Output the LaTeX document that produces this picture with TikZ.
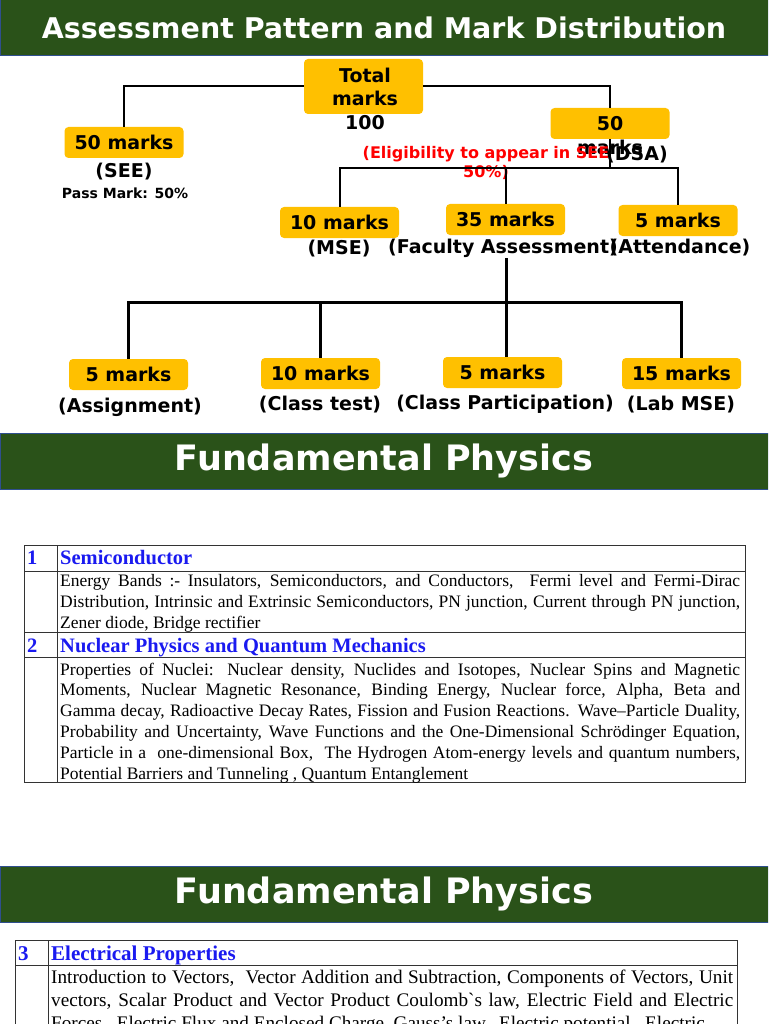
\documentclass[tikz,border=0pt]{standalone}
\usepackage{fontspec}
\setmainfont{Liberation Serif}
\newfontfamily\dv{DejaVu Sans}
\definecolor{bargreen}{HTML}{2A5219}
\definecolor{barblue}{HTML}{2F4F8F}
\definecolor{mk}{HTML}{FFC000}
\definecolor{hd}{HTML}{1A1AF0}
\definecolor{tl}{HTML}{333333}
\definecolor{elig}{HTML}{FF0000}
\tikzset{
  bar/.style={fill=bargreen, draw=barblue, line width=1pt},
  bartext/.style={text=white, inner sep=0pt, font=\dv\bfseries\fontsize{35}{40}\selectfont},
  mbox/.style={fill=mk, rounded corners=4pt, minimum width=119pt, minimum height=31pt, inner sep=0pt, font=\dv\bfseries\fontsize{19}{22}\selectfont},
  lab/.style={inner sep=0pt, font=\dv\bfseries\fontsize{19}{22}\selectfont},
  conn/.style={line width=2pt},
  tconn/.style={line width=3pt},
  cell/.style={draw=tl, line width=1pt},
  hnum/.style={anchor=base west, inner sep=0pt, text=hd, font=\bfseries\fontsize{20.5}{24}\selectfont},
  bodyA/.style={anchor=north west, inner sep=0pt, text width=680pt, align=justify, font=\fontsize{17.5}{20.9}\selectfont},
  bodyB/.style={anchor=north west, inner sep=0pt, text width=682pt, align=justify, font=\fontsize{19.2}{23}\selectfont},
}
\begin{document}
\begin{tikzpicture}[x=1pt,y=-1pt]
\clip (0,0) rectangle (768,1024);
\fill[white] (0,0) rectangle (768,1024);
% header bar 1
\draw[bar] (0,0) rectangle (768,56);
\node[bartext, font=\dv\bfseries\fontsize{28.5}{31}\selectfont] (t1) at (384,28) {Assessment Pattern and Mark Distribution};

% tree
\node[mbox, minimum height=55pt] (tot) at (363.5,86.5) {};
\node[lab, align=center, font=\dv\bfseries\fontsize{19}{23.5}\selectfont] (tottxt) at (365,98.5) {Total\\marks\\100};
\node[mbox] (see) at (124,142.5) {50 marks};
\node[lab] (seel) at (124,172) {(SEE)};
\node[lab, font=\dv\bfseries\fontsize{14}{16}\selectfont] (pass) at (125,193) {Pass Mark: 50\%};
\node[mbox] (dsa) at (610,123.5) {};
\node[lab, align=center, font=\dv\bfseries\fontsize{19}{24}\selectfont] (dsatxt) at (610,136) {50\\marks};
\node[lab, align=center, text=elig, font=\dv\bfseries\fontsize{16}{19}\selectfont] (elg) at (486,162.5) {(Eligibility to appear in SEE\\50\%)};
\node[lab] (dsal) at (637,155) {(DSA)};

\node[mbox] (mse) at (339.5,222.5) {10 marks};
\node[mbox] (fac) at (505.5,219.5) {35 marks};
\node[mbox] (att) at (678,220.5) {5 marks};
\node[lab] (msel) at (339,249) {(MSE)};
\node[lab] (facl) at (503,248) {(Faculty Assessment)};
\node[lab] (attl) at (680,248) {(Attendance)};

\node[mbox] (asg) at (128.5,374.5) {5 marks};
\node[mbox] (ct) at (320.5,373.5) {10 marks};
\node[mbox] (cp) at (502.5,372.5) {5 marks};
\node[mbox] (lb) at (681.5,373.5) {15 marks};
\node[lab] (asgl) at (130,407) {(Assignment)};
\node[lab] (ctl) at (320,405) {(Class test)};
\node[lab] (cpl) at (505,404) {(Class Participation)};
\node[lab] (lbl) at (681,405) {(Lab MSE)};

\draw[conn] (tot.west) -| (see.north);
\draw[conn] (tot.east) -| (dsa.north);
\coordinate (j1) at (610,168);
\draw[conn] (dsa.south) -- (j1);
\draw[conn] (mse.north) |- (j1) -| (att.north);
\draw[conn] (fac.north) -- (fac.north |- j1);
\coordinate (j2) at (506,302);
\coordinate (fb) at (506,258);
\draw[tconn] (fb) -- (cp.north -| fb);
\draw[tconn] (asg.north) |- (j2) -| (lb.north);
\draw[tconn] (ct.north) -- (ct.north |- j2);

% header bar 2
\draw[bar] (0,433) rectangle (768,489);
\node[bartext] (t2) at (384,461) {Fundamental Physics};

% table 1
\draw[cell] (24,545) rectangle (745,782);
\draw[cell] (24,571) -- (745,571);
\draw[cell] (24,632) -- (745,632);
\draw[cell] (24,657) -- (745,657);
\draw[cell] (57,545) -- (57,782);
\node[hnum] (n1) at (27,564) {1};
\node[hnum] (h1) at (60,564) {Semiconductor};
\node[bodyA] (b1) at (60,574.5) {Energy Bands :- Insulators, Semiconductors, and Conductors, \ Fermi level and Fermi-Dirac\linebreak Distribution, Intrinsic and Extrinsic Semiconductors, PN junction, Current through PN junction,\linebreak Zener diode, Bridge rectifier};
\node[hnum] (n2) at (27,652) {2};
\node[hnum] (h2) at (60,652) {Nuclear Physics and Quantum Mechanics};
\node[bodyA] (b2) at (60,662.5) {Properties of Nuclei: Nuclear density, Nuclides and Isotopes, Nuclear Spins and Magnetic\linebreak Moments, Nuclear Magnetic Resonance, Binding Energy, Nuclear force, Alpha, Beta and\linebreak Gamma decay, Radioactive Decay Rates, Fission and Fusion Reactions. Wave–Particle Duality,\linebreak Probability and Uncertainty, Wave Functions and the One-Dimensional Schrödinger Equation,\linebreak Particle in a \ one-dimensional Box, \ The Hydrogen Atom-energy levels and quantum numbers,\linebreak Potential Barriers and Tunneling , Quantum Entanglement};

% header bar 3
\draw[bar] (0,866) rectangle (768,922);
\node[bartext] (t3) at (384,894) {Fundamental Physics};

% table 2
\draw[cell] (15,940) rectangle (737,1040);
\draw[cell] (15,965) -- (737,965);
\draw[cell] (48,940) -- (48,1040);
\node[hnum, font=\bfseries\fontsize{21}{24}\selectfont] (n3) at (18,960) {3};
\node[hnum, font=\bfseries\fontsize{21}{24}\selectfont] (h3) at (51,960) {Electrical Properties};
\node[bodyB] (b3) at (51,969.5) {Introduction to Vectors, \ Vector Addition and Subtraction, Components of Vectors, Unit\linebreak vectors, Scalar Product and Vector Product Coulomb\textasciigrave s law, Electric Field and Electric\linebreak Forces, \ Electric Flux and Enclosed Charge, Gauss’s law, \ Electric potential, \ Electric};
\end{tikzpicture}
\end{document}
